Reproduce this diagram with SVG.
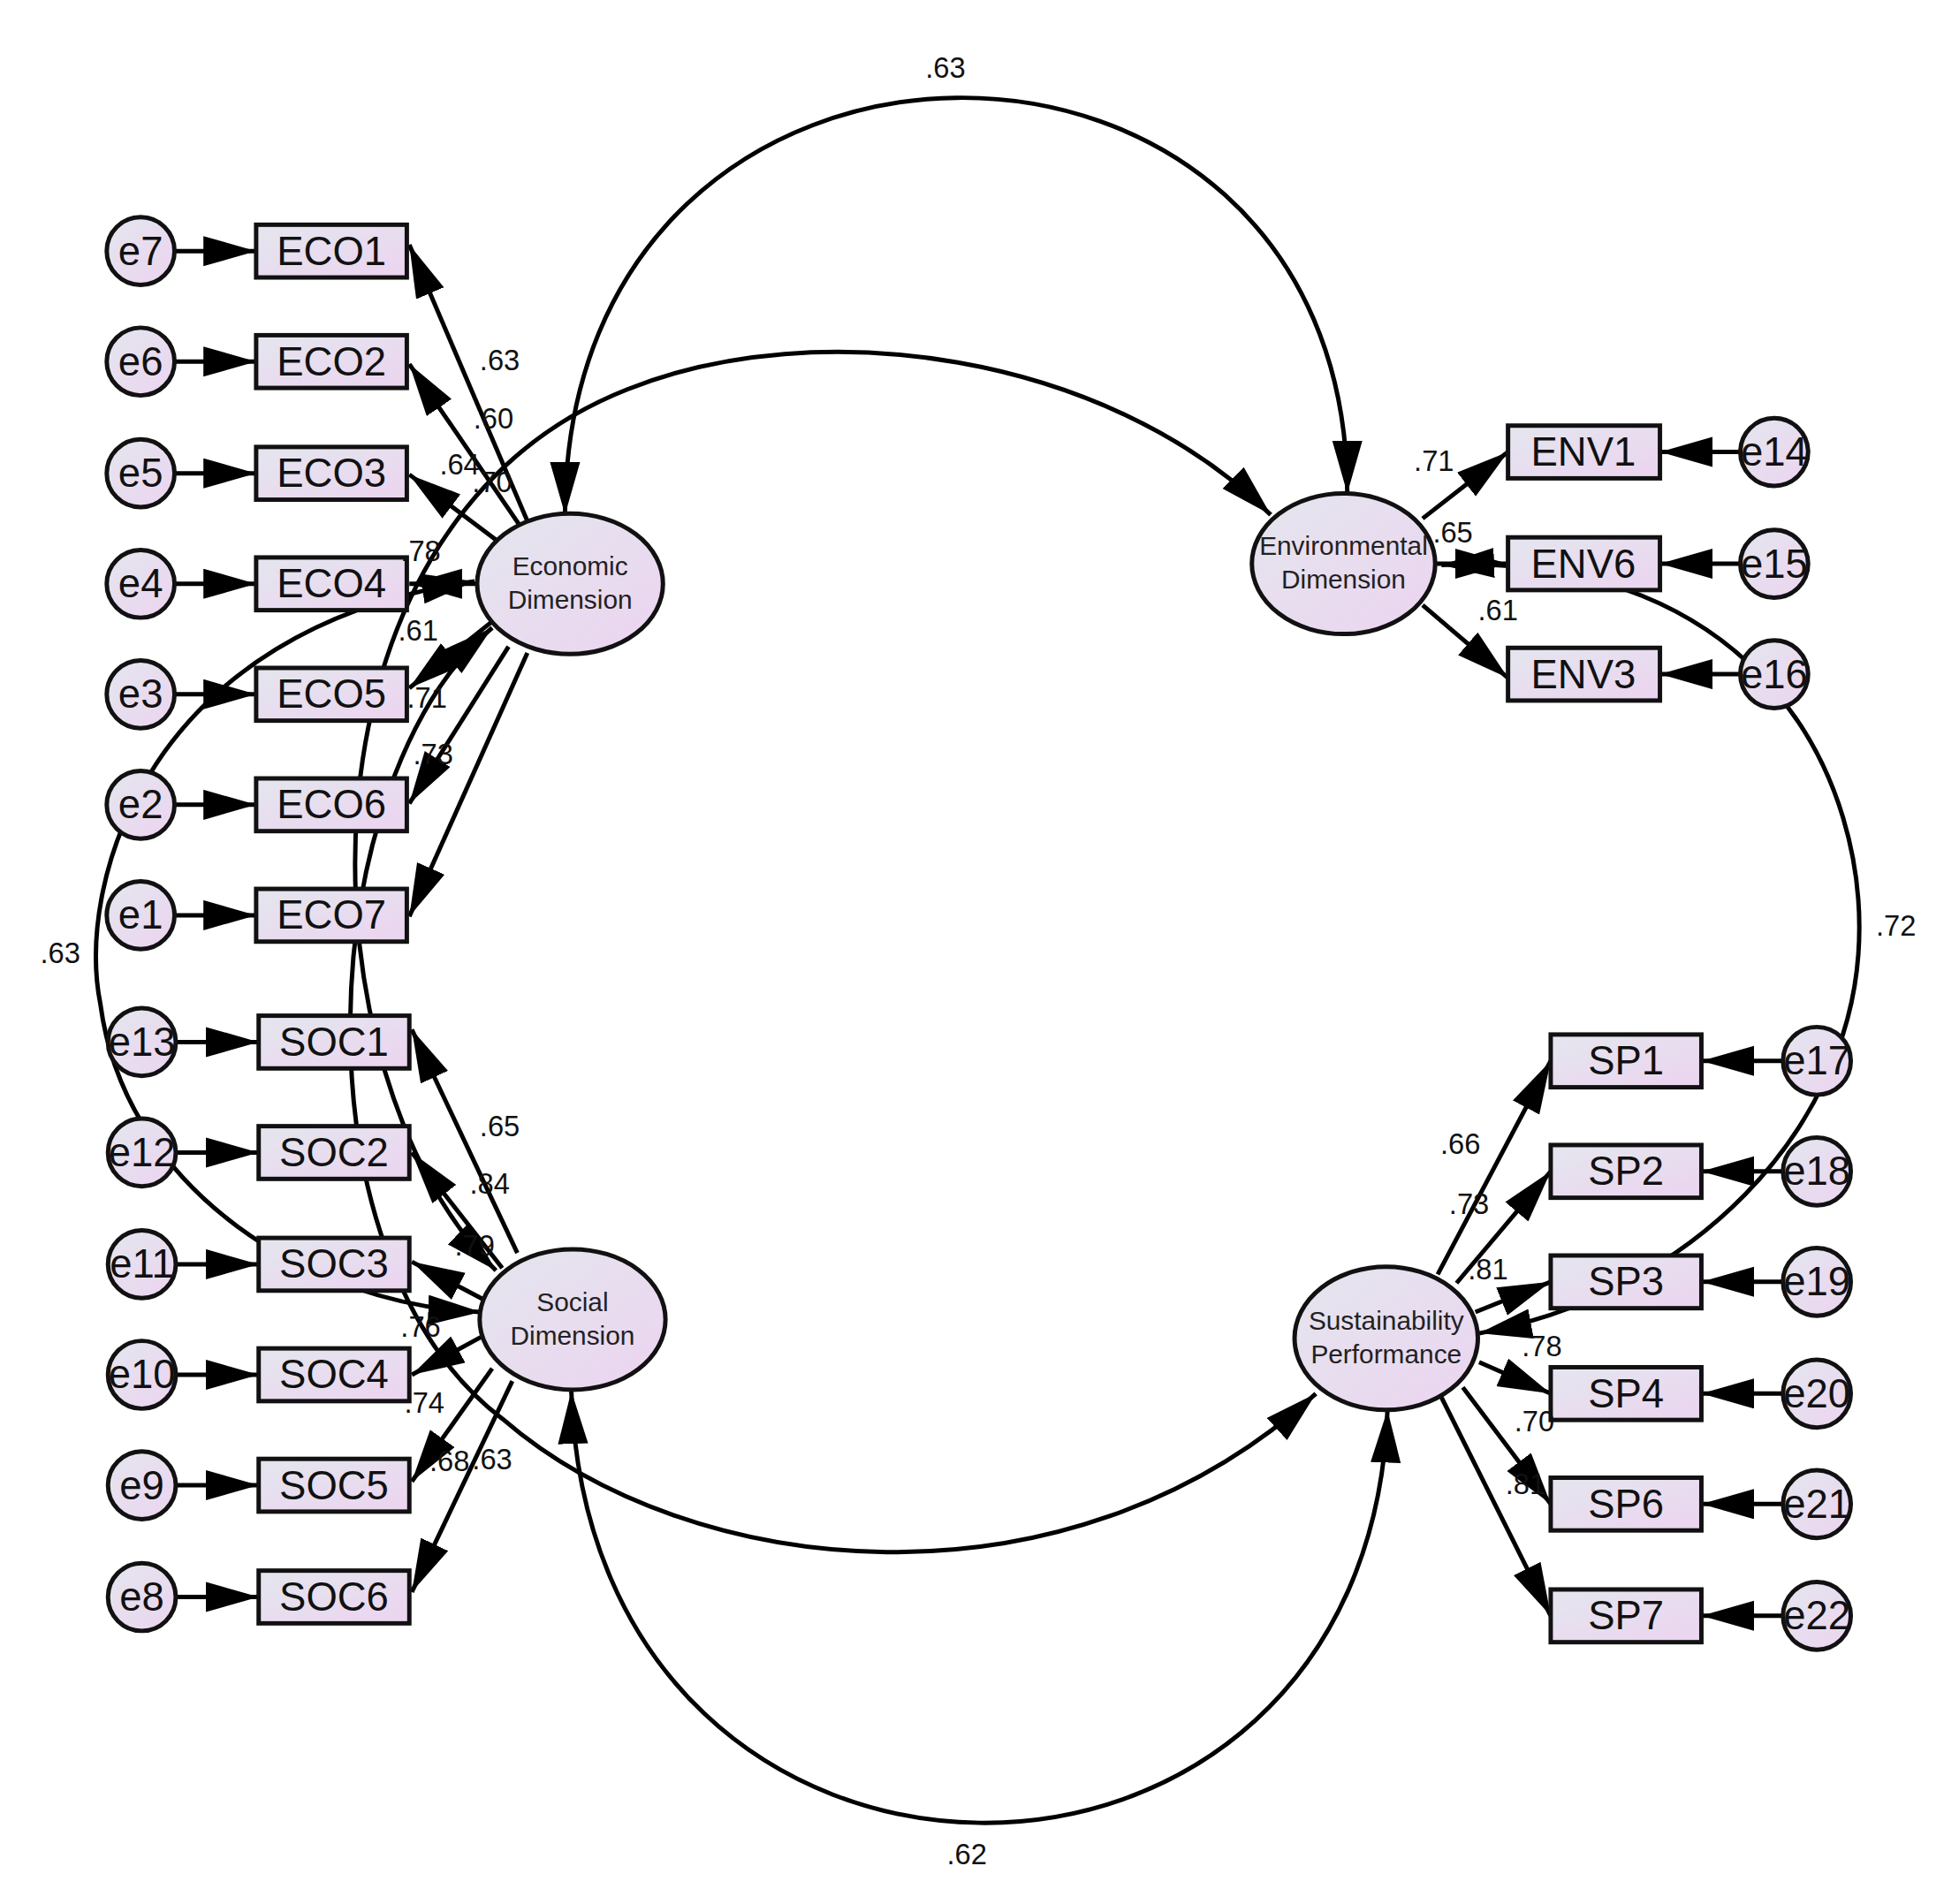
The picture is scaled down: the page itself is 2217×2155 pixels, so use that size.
<svg xmlns="http://www.w3.org/2000/svg" width="2217" height="2155" viewBox="0 0 2217 2155">
<defs>
<linearGradient id="g" x1="0" y1="0" x2="1" y2="1"><stop offset="0" stop-color="#e4e6ee"/><stop offset="1" stop-color="#ecd4f0"/></linearGradient>
<marker id="a" markerUnits="userSpaceOnUse" markerWidth="46" markerHeight="26" refX="42" refY="12" orient="auto-start-reverse" viewBox="0 0 46 26"><path d="M0,0 L42,12 L0,24 z" fill="#000"/></marker>
<style>
.n{fill:url(#g);stroke:#111;stroke-width:3.5}
.t{font-family:"Liberation Sans",Arial,sans-serif;font-size:32px;fill:#111;text-anchor:middle;dominant-baseline:central}
.s{font-family:"Liberation Sans",Arial,sans-serif;font-size:21px;fill:#222;text-anchor:middle}
.l{font-family:"Liberation Sans",Arial,sans-serif;font-size:23px;fill:#111;text-anchor:middle}
.c path{fill:none;stroke:#000;stroke-width:3.5}
.c .o{marker-end:url(#a)}
.c .b{marker-start:url(#a);marker-end:url(#a)}
</style>
</defs>
<rect width="2217" height="2155" fill="#fff"/>
<g transform="scale(1.421)">
<g class="c" id="connectors">
<path class="b" d="M450,410 C450,-30 1073,-30 1073,393"/>
<path class="b" d="M395,1012 C240,860 220,420 500,310 C650,250 880,280 1012,410"/>
<path class="b" d="M392,500 C250,620 230,1000 400,1130 C550,1260 850,1290 1048,1110"/>
<path class="b" d="M378,463 C120,500 60,700 80,800 C100,950 250,1040 383,1045"/>
<path class="b" d="M1148,450 C1400,440 1490,620 1480,760 C1470,900 1350,1030 1178,1062"/>
<path class="b" d="M455,1108 C470,1564 1090,1564 1105,1123"/>
<path class="o" d="M420,415 L326,195"/><path class="o" d="M415,420 L326,290"/><path class="o" d="M395,430 L326,378"/>
<path class="o" d="M380,465 L326,465"/><path class="o" d="M392,495 L326,548"/><path class="o" d="M405,515 L326,640"/><path class="o" d="M420,520 L326,730"/>
<path class="o" d="M412,998 L328,820"/><path class="o" d="M400,1010 L328,918"/><path class="o" d="M385,1035 L328,1005"/>
<path class="o" d="M383,1065 L328,1095"/><path class="o" d="M392,1090 L328,1180"/><path class="o" d="M408,1100 L328,1268"/>
<path class="o" d="M1133,413 L1201,360"/><path class="o" d="M1143,449 L1201,449"/><path class="o" d="M1133,482 L1201,540"/>
<path class="o" d="M1145,1015 L1235,845"/><path class="o" d="M1160,1022 L1235,933"/><path class="o" d="M1175,1045 L1235,1021"/>
<path class="o" d="M1178,1085 L1235,1110"/><path class="o" d="M1165,1105 L1235,1198"/><path class="o" d="M1148,1113 L1235,1287"/>
<path class="o" d="M140,200 L204,200"/><path class="o" d="M140,288 L204,288"/><path class="o" d="M140,377 L204,377"/><path class="o" d="M140,465 L204,465"/><path class="o" d="M140,553 L204,553"/><path class="o" d="M140,641 L204,641"/><path class="o" d="M140,729 L204,729"/>
<path class="o" d="M141,830 L206,830"/><path class="o" d="M141,918 L206,918"/><path class="o" d="M141,1007 L206,1007"/><path class="o" d="M141,1095 L206,1095"/><path class="o" d="M141,1183 L206,1183"/><path class="o" d="M141,1272 L206,1272"/>
<path class="o" d="M1386,360 L1322,360"/><path class="o" d="M1386,449 L1322,449"/><path class="o" d="M1386,537 L1322,537"/>
<path class="o" d="M1420,845 L1355,845"/><path class="o" d="M1420,933 L1355,933"/><path class="o" d="M1420,1021 L1355,1021"/><path class="o" d="M1420,1110 L1355,1110"/><path class="o" d="M1420,1198 L1355,1198"/><path class="o" d="M1420,1287 L1355,1287"/>
</g>
<g id="latents">
<g id="eco"><ellipse class="n" cx="454" cy="465" rx="74" ry="56"/><text class="s" x="454" y="458">Economic</text><text class="s" x="454" y="485">Dimension</text></g>
<g id="soc"><ellipse class="n" cx="456" cy="1051" rx="74" ry="56"/><text class="s" x="456" y="1044">Social</text><text class="s" x="456" y="1071">Dimension</text></g>
<g id="env"><ellipse class="n" cx="1070" cy="449" rx="73" ry="56"/><text class="s" x="1070" y="442">Environmental</text><text class="s" x="1070" y="469">Dimension</text></g>
<g id="sp"><ellipse class="n" cx="1104" cy="1066" rx="73" ry="57"/><text class="s" x="1104" y="1059">Sustainability</text><text class="s" x="1104" y="1086">Performance</text></g>
</g>
<g id="boxes">
<g id="ECO1"><rect class="n" x="204" y="179" width="120" height="42"/><text class="t" x="264" y="200">ECO1</text></g>
<g id="ECO2"><rect class="n" x="204" y="267" width="120" height="42"/><text class="t" x="264" y="288">ECO2</text></g>
<g id="ECO3"><rect class="n" x="204" y="356" width="120" height="42"/><text class="t" x="264" y="377">ECO3</text></g>
<g id="ECO4"><rect class="n" x="204" y="444" width="120" height="42"/><text class="t" x="264" y="465">ECO4</text></g>
<g id="ECO5"><rect class="n" x="204" y="532" width="120" height="42"/><text class="t" x="264" y="553">ECO5</text></g>
<g id="ECO6"><rect class="n" x="204" y="620" width="120" height="42"/><text class="t" x="264" y="641">ECO6</text></g>
<g id="ECO7"><rect class="n" x="204" y="708" width="120" height="42"/><text class="t" x="264" y="729">ECO7</text></g>
<g id="SOC1"><rect class="n" x="206" y="809" width="120" height="42"/><text class="t" x="266" y="830">SOC1</text></g>
<g id="SOC2"><rect class="n" x="206" y="897" width="120" height="42"/><text class="t" x="266" y="918">SOC2</text></g>
<g id="SOC3"><rect class="n" x="206" y="986" width="120" height="42"/><text class="t" x="266" y="1007">SOC3</text></g>
<g id="SOC4"><rect class="n" x="206" y="1074" width="120" height="42"/><text class="t" x="266" y="1095">SOC4</text></g>
<g id="SOC5"><rect class="n" x="206" y="1162" width="120" height="42"/><text class="t" x="266" y="1183">SOC5</text></g>
<g id="SOC6"><rect class="n" x="206" y="1251" width="120" height="42"/><text class="t" x="266" y="1272">SOC6</text></g>
<g id="ENV1"><rect class="n" x="1201" y="339" width="121" height="42"/><text class="t" x="1261" y="360">ENV1</text></g>
<g id="ENV6"><rect class="n" x="1201" y="428" width="121" height="42"/><text class="t" x="1261" y="449">ENV6</text></g>
<g id="ENV3"><rect class="n" x="1201" y="516" width="121" height="42"/><text class="t" x="1261" y="537">ENV3</text></g>
<g id="SP1"><rect class="n" x="1235" y="824" width="120" height="42"/><text class="t" x="1295" y="845">SP1</text></g>
<g id="SP2"><rect class="n" x="1235" y="912" width="120" height="42"/><text class="t" x="1295" y="933">SP2</text></g>
<g id="SP3"><rect class="n" x="1235" y="1000" width="120" height="42"/><text class="t" x="1295" y="1021">SP3</text></g>
<g id="SP4"><rect class="n" x="1235" y="1089" width="120" height="42"/><text class="t" x="1295" y="1110">SP4</text></g>
<g id="SP6"><rect class="n" x="1235" y="1177" width="120" height="42"/><text class="t" x="1295" y="1198">SP6</text></g>
<g id="SP7"><rect class="n" x="1235" y="1266" width="120" height="42"/><text class="t" x="1295" y="1287">SP7</text></g>
</g>
<g id="errors">
<g id="e7"><circle class="n" cx="112" cy="200" r="27"/><text class="t" x="112" y="200">e7</text></g>
<g id="e6"><circle class="n" cx="112" cy="288" r="27"/><text class="t" x="112" y="288">e6</text></g>
<g id="e5"><circle class="n" cx="112" cy="377" r="27"/><text class="t" x="112" y="377">e5</text></g>
<g id="e4"><circle class="n" cx="112" cy="465" r="27"/><text class="t" x="112" y="465">e4</text></g>
<g id="e3"><circle class="n" cx="112" cy="553" r="27"/><text class="t" x="112" y="553">e3</text></g>
<g id="e2"><circle class="n" cx="112" cy="641" r="27"/><text class="t" x="112" y="641">e2</text></g>
<g id="e1"><circle class="n" cx="112" cy="729" r="27"/><text class="t" x="112" y="729">e1</text></g>
<g id="e13"><circle class="n" cx="113" cy="830" r="27"/><text class="t" x="113" y="830">e13</text></g>
<g id="e12"><circle class="n" cx="113" cy="918" r="27"/><text class="t" x="113" y="918">e12</text></g>
<g id="e11"><circle class="n" cx="113" cy="1007" r="27"/><text class="t" x="113" y="1007">e11</text></g>
<g id="e10"><circle class="n" cx="113" cy="1095" r="27"/><text class="t" x="113" y="1095">e10</text></g>
<g id="e9"><circle class="n" cx="113" cy="1183" r="27"/><text class="t" x="113" y="1183">e9</text></g>
<g id="e8"><circle class="n" cx="113" cy="1272" r="27"/><text class="t" x="113" y="1272">e8</text></g>
<g id="e14"><circle class="n" cx="1413" cy="360" r="27"/><text class="t" x="1413" y="360">e14</text></g>
<g id="e15"><circle class="n" cx="1413" cy="449" r="27"/><text class="t" x="1413" y="449">e15</text></g>
<g id="e16"><circle class="n" cx="1413" cy="537" r="27"/><text class="t" x="1413" y="537">e16</text></g>
<g id="e17"><circle class="n" cx="1447" cy="845" r="27"/><text class="t" x="1447" y="845">e17</text></g>
<g id="e18"><circle class="n" cx="1447" cy="933" r="27"/><text class="t" x="1447" y="933">e18</text></g>
<g id="e19"><circle class="n" cx="1447" cy="1021" r="27"/><text class="t" x="1447" y="1021">e19</text></g>
<g id="e20"><circle class="n" cx="1447" cy="1110" r="27"/><text class="t" x="1447" y="1110">e20</text></g>
<g id="e21"><circle class="n" cx="1447" cy="1198" r="27"/><text class="t" x="1447" y="1198">e21</text></g>
<g id="e22"><circle class="n" cx="1447" cy="1287" r="27"/><text class="t" x="1447" y="1287">e22</text></g>
</g>
<g id="labels">
<text class="l" x="753" y="62">.63</text><text class="l" x="398" y="295">.63</text><text class="l" x="393" y="341">.60</text>
<text class="l" x="366" y="378">.64</text><text class="l" x="392" y="392">.70</text><text class="l" x="335" y="447">.78</text>
<text class="l" x="333" y="510">.61</text><text class="l" x="340" y="564">.71</text><text class="l" x="345" y="609">.73</text>
<text class="l" x="48" y="767">.63</text><text class="l" x="398" y="905">.65</text><text class="l" x="390" y="951">.84</text>
<text class="l" x="378" y="1000">.79</text><text class="l" x="335" y="1065">.76</text><text class="l" x="338" y="1125">.74</text>
<text class="l" x="358" y="1172">.68</text><text class="l" x="392" y="1170">.63</text><text class="l" x="770" y="1485">.62</text>
<text class="l" x="1142" y="375">.71</text><text class="l" x="1157" y="432">.65</text><text class="l" x="1193" y="494">.61</text>
<text class="l" x="1510" y="745">.72</text><text class="l" x="1163" y="919">.66</text><text class="l" x="1170" y="967">.73</text>
<text class="l" x="1185" y="1019">.81</text><text class="l" x="1228" y="1080">.78</text><text class="l" x="1222" y="1140">.70</text>
<text class="l" x="1215" y="1190">.81</text>
</g>
</g>
</svg>
